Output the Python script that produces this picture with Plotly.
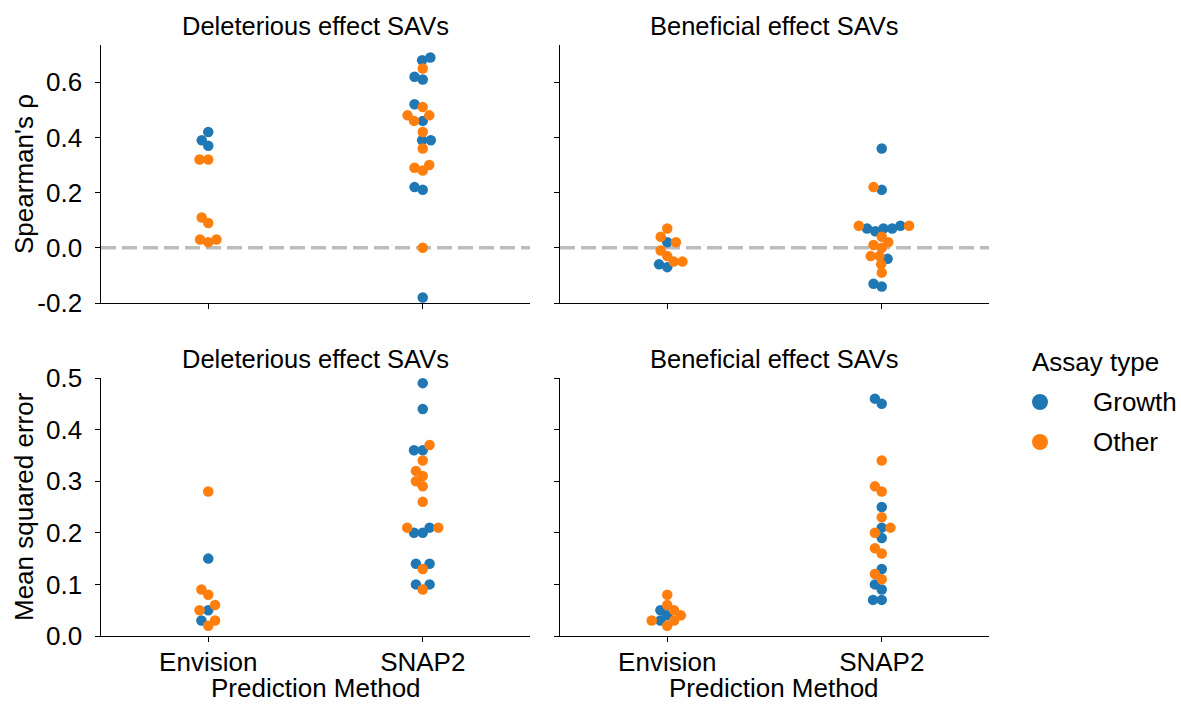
import math
import plotly.graph_objects as go

# ---- data -----------------------------------------------------------------
METHODS = ["Envision", "SNAP2"]
ASSAY_TYPES = ["Growth", "Other"]
COLORS = {"Growth": "#1f77b4", "Other": "#ff7f0e"}

# Spearman's rho, deleterious effect SAVs
del_rho_envision_growth = [0.42, 0.39, 0.37]
del_rho_envision_other = [0.32, 0.32, 0.11, 0.09, 0.03, 0.02, 0.03]
del_rho_snap2_growth = [0.69, 0.68, 0.62, 0.61, 0.52, 0.46, 0.39, 0.39, 0.22, 0.21, -0.18]
del_rho_snap2_other = [0.65, 0.51, 0.48, 0.48, 0.46, 0.42, 0.36, 0.30, 0.29, 0.28, 0.00]

# Spearman's rho, beneficial effect SAVs
ben_rho_envision_growth = [0.02, -0.06, -0.07]
ben_rho_envision_other = [0.07, 0.04, 0.02, -0.01, -0.03, -0.05, -0.05]
ben_rho_snap2_growth = [0.36, 0.21, 0.07, 0.06, 0.07, 0.07, 0.08, -0.04, -0.13, -0.14]
ben_rho_snap2_other = [0.22, 0.08, 0.08, 0.04, 0.02, 0.01, 0.00, -0.03, -0.03, -0.06, -0.09]

# Mean squared error, deleterious effect SAVs
del_mse_envision_growth = [0.15, 0.05, 0.03]
del_mse_envision_other = [0.28, 0.09, 0.08, 0.06, 0.05, 0.03, 0.02]
del_mse_snap2_growth = [0.49, 0.44, 0.36, 0.36, 0.21, 0.20, 0.20, 0.14, 0.14, 0.10, 0.10]
del_mse_snap2_other = [0.37, 0.34, 0.32, 0.31, 0.30, 0.29, 0.26, 0.21, 0.21, 0.13, 0.09]

# Mean squared error, beneficial effect SAVs
ben_mse_envision_growth = [0.05, 0.04, 0.03]
ben_mse_envision_other = [0.08, 0.06, 0.05, 0.04, 0.03, 0.03, 0.02]
ben_mse_snap2_growth = [0.46, 0.45, 0.25, 0.21, 0.19, 0.13, 0.10, 0.09, 0.07, 0.07]
ben_mse_snap2_other = [0.34, 0.29, 0.28, 0.23, 0.21, 0.20, 0.17, 0.16, 0.12, 0.11]

PANEL_TITLES = ["Deleterious effect SAVs", "Beneficial effect SAVs"]
ROW_LABELS = ["Spearman's ρ", "Mean squared error"]
X_LABEL = "Prediction Method"
LEGEND_TITLE = "Assay type"

RHO_TICKS = [-0.2, 0.0, 0.2, 0.4, 0.6]
MSE_TICKS = [0.0, 0.1, 0.2, 0.3, 0.4, 0.5]

panels = {
    (0, 0): [(del_rho_envision_growth, del_rho_envision_other),
             (del_rho_snap2_growth, del_rho_snap2_other)],
    (0, 1): [(ben_rho_envision_growth, ben_rho_envision_other),
             (ben_rho_snap2_growth, ben_rho_snap2_other)],
    (1, 0): [(del_mse_envision_growth, del_mse_envision_other),
             (del_mse_snap2_growth, del_mse_snap2_other)],
    (1, 1): [(ben_mse_envision_growth, ben_mse_envision_other),
             (ben_mse_snap2_growth, ben_mse_snap2_other)],
}

# ---- layout geometry (pixels) ---------------------------------------------
W, H = 1181, 704
COL_PX = [(101, 530), (560, 989)]
ROW_PX = [(45, 303), (378, 636)]
X_RANGE = [-0.5, 1.5]
Y_RANGES = [[-0.2, 0.735], [0.0, 0.5]]
FONT = "Liberation Sans, Arial, sans-serif"
FS_TICK = 26
FS_TITLE = 25.5
FS_YLABEL = 26
FS_XLABEL = 26
FS_LEGEND = 26
MARKER_D = 10.5      # drawn marker diameter
SWARM_SEP = 8.3      # centre spacing used by the swarm layout


def px_x(p):
    return p / W


def px_y(p):
    return 1 - p / H


def swarm_offsets(values, x_scale, y_scale, sep=SWARM_SEP):
    """Beeswarm placement: each point goes to the position nearest the
    category centre that does not collide with points already placed."""
    order = sorted(range(len(values)), key=lambda i: values[i])
    placed = []
    out = [0.0] * len(values)
    for idx in order:
        y = values[idx] * y_scale
        neighbors = []
        for xj, yj in reversed(placed):
            if y - yj < sep:
                neighbors.append((xj, yj))
            else:
                break
        neighbors.reverse()
        cands = [0.0]
        left_first = True
        for xj, yj in neighbors:
            dx = math.sqrt(max(sep ** 2 - (y - yj) ** 2, 0.0)) * 1.05
            pair = [xj - dx, xj + dx] if left_first else [xj + dx, xj - dx]
            cands.extend(pair)
            left_first = not left_first
        cands.sort(key=abs)
        chosen = cands[0]
        if neighbors:
            for c in cands:
                if all((nx - c) ** 2 + (ny - y) ** 2 >= sep ** 2 - 1e-9
                       for nx, ny in neighbors):
                    chosen = c
                    break
        placed.append((chosen, y))
        out[idx] = chosen / x_scale
    return out


fig = go.Figure()

axis_common = dict(
    showline=True, linecolor="black", linewidth=1.3,
    ticks="outside", ticklen=4.5, tickwidth=1.3, tickcolor="black",
    showgrid=False, zeroline=False, automargin=False,
    tickfont=dict(family=FONT, size=FS_TICK, color="black"),
)

annotations = []
shapes = []

for (r, c), groups in panels.items():
    k = r * 2 + c + 1
    xname = "x" if k == 1 else f"x{k}"
    yname = "y" if k == 1 else f"y{k}"
    x0p, x1p = COL_PX[c]
    y0p, y1p = ROW_PX[r]
    yr = Y_RANGES[r]
    x_scale = (x1p - x0p) / (X_RANGE[1] - X_RANGE[0])
    y_scale = (y1p - y0p) / (yr[1] - yr[0])

    for m, (growth, other) in enumerate(groups):
        vals = list(growth) + list(other)
        hues = ["Growth"] * len(growth) + ["Other"] * len(other)
        offs = swarm_offsets(vals, x_scale, y_scale)
        fig.add_trace(go.Scatter(
            x=[m + o for o in offs], y=vals, mode="markers",
            marker=dict(size=MARKER_D, color=[COLORS[h] for h in hues],
                        line=dict(width=0)),
            xaxis=xname, yaxis=yname, showlegend=False, cliponaxis=False,
            hovertext=hues,
        ))

    xa = dict(axis_common, domain=[px_x(x0p), px_x(x1p)], range=X_RANGE,
              tickvals=[0, 1], ticktext=METHODS, anchor=yname,
              showticklabels=(r == 1), ticklabelstandoff=-2)
    ticks = RHO_TICKS if r == 0 else MSE_TICKS
    ya = dict(axis_common, domain=[px_y(y1p), px_y(y0p)], range=yr,
              tickvals=ticks, ticktext=[f"{t:.1f}" for t in ticks],
              anchor=xname, showticklabels=(c == 0), ticklabelstandoff=8)
    fig.update_layout({("xaxis" if k == 1 else f"xaxis{k}"): xa,
                       ("yaxis" if k == 1 else f"yaxis{k}"): ya})

    # zero reference line in the correlation row
    if r == 0:
        shapes.append(dict(type="line", xref=xname, yref=yname,
                           x0=X_RANGE[0], x1=X_RANGE[1], y0=0, y1=0,
                           line=dict(color="#bdbdbd", width=3.5, dash="15px,6px"),
                           layer="below"))

    cx = px_x((x0p + x1p) / 2)
    annotations.append(dict(text=PANEL_TITLES[c], xref="paper", yref="paper",
                            x=cx, y=px_y(y0p - 19), xanchor="center",
                            yanchor="middle", showarrow=False,
                            font=dict(family=FONT, size=FS_TITLE, color="black")))
    if c == 0:
        annotations.append(dict(text=ROW_LABELS[r], xref="paper", yref="paper",
                                x=px_x(24), y=px_y((y0p + y1p) / 2),
                                xanchor="center", yanchor="middle",
                                textangle=-90, showarrow=False,
                                font=dict(family=FONT, size=FS_YLABEL, color="black")))
    if r == 1:
        annotations.append(dict(text=X_LABEL, xref="paper", yref="paper",
                                x=cx, y=0, xanchor="center",
                                yanchor="bottom", borderpad=0,
                                showarrow=False,
                                font=dict(family=FONT, size=FS_XLABEL, color="black")))

# legend: title, colour dots and labels
annotations.append(dict(text=LEGEND_TITLE, xref="paper", yref="paper",
                        x=px_x(1030), y=px_y(362), xanchor="left",
                        yanchor="middle", showarrow=False,
                        font=dict(family=FONT, size=FS_LEGEND, color="black")))
for i, hue in enumerate(ASSAY_TYPES):
    cy = 402 + 40 * i
    shapes.append(dict(type="circle", xref="paper", yref="paper",
                       x0=px_x(1032), x1=px_x(1048),
                       y0=px_y(cy + 8), y1=px_y(cy - 8),
                       fillcolor=COLORS[hue], line=dict(width=0)))
    annotations.append(dict(text=hue, xref="paper", yref="paper",
                            x=px_x(1091), y=px_y(cy), xanchor="left",
                            yanchor="middle", showarrow=False,
                            font=dict(family=FONT, size=FS_LEGEND, color="black")))

fig.update_layout(
    width=W, height=H,
    margin=dict(l=0, r=0, t=0, b=0),
    paper_bgcolor="white", plot_bgcolor="white",
    font=dict(family=FONT, size=FS_TICK, color="black"),
    annotations=annotations, shapes=shapes,
    showlegend=False,
)

fig.write_html("out.html")
